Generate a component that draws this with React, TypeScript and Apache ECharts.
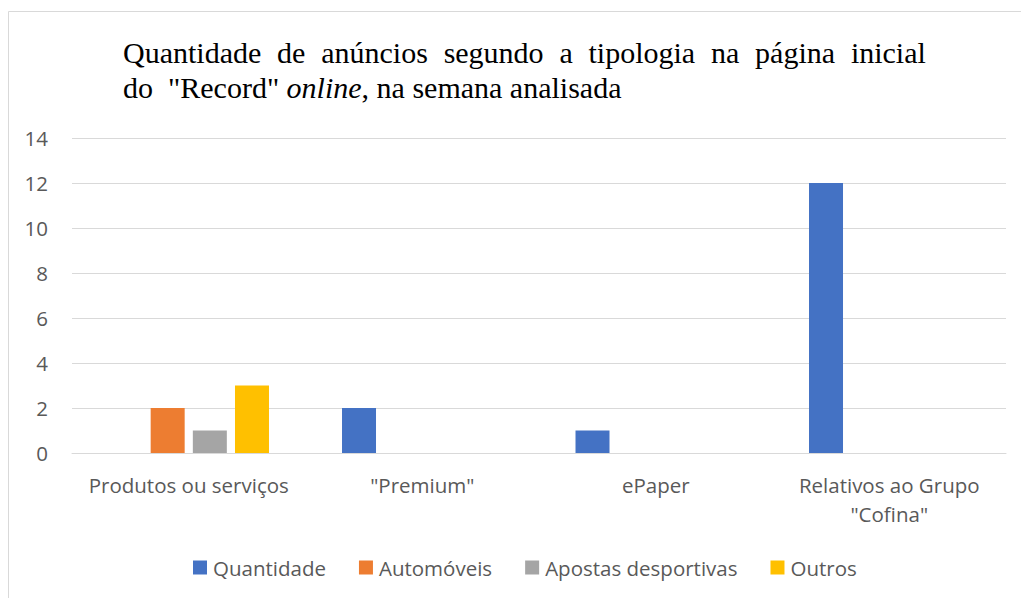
import React, { useEffect, useRef } from "react";
import * as echarts from "echarts";

const categories = ["Produtos ou serviços", "\"Premium\"", "ePaper", "Relativos ao Grupo\n\"Cofina\""];
const quantidade = [0, 2, 1, 12];
const automoveis = [2, 0, 0, 0];
const apostas = [1, 0, 0, 0];
const outros = [3, 0, 0, 0];
const seriesNames = ["Quantidade", "Automóveis", "Apostas desportivas", "Outros"];
const colors = ["#4472C4", "#ED7D31", "#A5A5A5", "#FFC000"];

const line1Words = ["Quantidade", "de", "anúncios", "segundo", "a", "tipologia", "na", "página", "inicial"];

export default function App() {
  const ref = useRef<HTMLDivElement>(null);
  useEffect(() => {
    if (!ref.current) return;
    const chart = echarts.init(ref.current, null, { renderer: "svg" });
    const font = "'Open Sans', 'Noto Sans', sans-serif";
    const serif = "'Liberation Serif', 'Times New Roman', serif";
    const line1 = line1Words.map((w) => `{n|${w}}`).join("{sp| }");
    const titleText = `${line1}\n{n|do  "Record" }{i|online}{n|, na semana analisada}`;
    const values = [quantidade, automoveis, apostas, outros];
    chart.setOption({
      animation: false,
      backgroundColor: "#ffffff",
      title: {
        text: titleText,
        left: 118,
        top: 30,
        textStyle: {
          fontWeight: "normal",
          fontFamily: serif,
          rich: {
            n: { fontFamily: serif, fontSize: 30, fontWeight: "normal", color: "#000", lineHeight: 35 },
            i: { fontFamily: serif, fontSize: 30, fontWeight: "normal", color: "#000", fontStyle: "italic", lineHeight: 35 },
            sp: { fontFamily: serif, fontSize: 30, fontWeight: "normal", width: 15.8, lineHeight: 35 },
          },
        },
      },
      graphic: [
        {
          type: "rect",
          shape: { x: 8.5, y: 11.5, width: 1100, height: 700 },
          style: { fill: "none", stroke: "#D9D9D9", lineWidth: 1 },
          silent: true,
        },
      ],
      grid: { left: 72, right: 15, top: 138, bottom: 145, containLabel: false },
      legend: {
        left: 188,
        top: 552,
        itemWidth: 14,
        itemHeight: 14,
        itemGap: 33,
        icon: "rect",
        textStyle: { fontFamily: font, fontSize: 20.5, color: "#595959", padding: [0, 0, 0, 1] },
        data: seriesNames,
      },
      xAxis: {
        type: "category",
        data: categories,
        axisLine: { lineStyle: { color: "#D9D9D9", width: 1 } },
        axisTick: { show: false },
        axisLabel: {
          fontFamily: font,
          fontSize: 20.5,
          color: "#595959",
          margin: 17,
          lineHeight: 29,
          interval: 0,
        },
      },
      yAxis: {
        type: "value",
        min: 0,
        max: 14,
        interval: 2,
        axisLine: { show: false },
        axisTick: { show: false },
        splitLine: { lineStyle: { color: "#D9D9D9", width: 1 } },
        axisLabel: { fontFamily: font, fontSize: 20.5, color: "#595959", margin: 24 },
      },
      series: seriesNames.map((name, i) => ({
        name,
        type: "bar",
        data: values[i],
        barWidth: 34,
        barGap: "24%",
        itemStyle: { color: colors[i] },
      })),
    });
    return () => chart.dispose();
  }, []);
  return <div ref={ref} style={{ position: "fixed", left: 0, top: 0, width: 1021, height: 598 }} />;
}
